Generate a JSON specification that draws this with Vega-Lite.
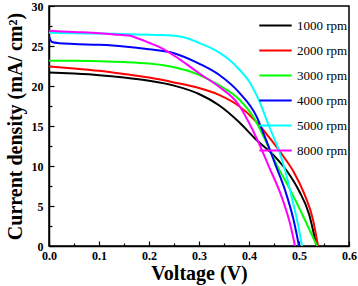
{
  "$schema": "https://vega.github.io/schema/vega-lite/v6.json",
  "width": 300,
  "height": 240,
  "autosize": {"type": "none"},
  "padding": {"left": 49, "top": 6, "right": 9, "bottom": 40},
  "background": "white",
  "config": {
    "view": {"stroke": "black", "strokeWidth": 1.5},
    "font": "Liberation Serif"
  },
  "data": {
    "values": [
      {"V": 0, "J": 21.7, "s": "1000 rpm"},
      {"V": 0.05, "J": 21.55, "s": "1000 rpm"},
      {"V": 0.1, "J": 21.35, "s": "1000 rpm"},
      {"V": 0.15, "J": 21.05, "s": "1000 rpm"},
      {"V": 0.2, "J": 20.65, "s": "1000 rpm"},
      {"V": 0.25, "J": 20.05, "s": "1000 rpm"},
      {"V": 0.3, "J": 19.0, "s": "1000 rpm"},
      {"V": 0.34, "J": 17.6, "s": "1000 rpm"},
      {"V": 0.38, "J": 15.5, "s": "1000 rpm"},
      {"V": 0.415, "J": 13.25, "s": "1000 rpm"},
      {"V": 0.45, "J": 11.3, "s": "1000 rpm"},
      {"V": 0.48, "J": 9.0, "s": "1000 rpm"},
      {"V": 0.5, "J": 6.9, "s": "1000 rpm"},
      {"V": 0.52, "J": 4.0, "s": "1000 rpm"},
      {"V": 0.535, "J": 0, "s": "1000 rpm"},

      {"V": 0, "J": 22.45, "s": "2000 rpm"},
      {"V": 0.05, "J": 22.2, "s": "2000 rpm"},
      {"V": 0.1, "J": 21.9, "s": "2000 rpm"},
      {"V": 0.15, "J": 21.5, "s": "2000 rpm"},
      {"V": 0.2, "J": 21.05, "s": "2000 rpm"},
      {"V": 0.25, "J": 20.45, "s": "2000 rpm"},
      {"V": 0.3, "J": 19.75, "s": "2000 rpm"},
      {"V": 0.34, "J": 18.9, "s": "2000 rpm"},
      {"V": 0.38, "J": 17.5, "s": "2000 rpm"},
      {"V": 0.415, "J": 15.5, "s": "2000 rpm"},
      {"V": 0.44, "J": 13.6, "s": "2000 rpm"},
      {"V": 0.47, "J": 11.1, "s": "2000 rpm"},
      {"V": 0.49, "J": 9.2, "s": "2000 rpm"},
      {"V": 0.51, "J": 6.6, "s": "2000 rpm"},
      {"V": 0.528, "J": 3.3, "s": "2000 rpm"},
      {"V": 0.538, "J": 0, "s": "2000 rpm"},

      {"V": 0, "J": 23.15, "s": "3000 rpm"},
      {"V": 0.05, "J": 23.15, "s": "3000 rpm"},
      {"V": 0.1, "J": 23.1, "s": "3000 rpm"},
      {"V": 0.15, "J": 23.0, "s": "3000 rpm"},
      {"V": 0.2, "J": 22.8, "s": "3000 rpm"},
      {"V": 0.25, "J": 22.35, "s": "3000 rpm"},
      {"V": 0.3, "J": 21.4, "s": "3000 rpm"},
      {"V": 0.34, "J": 20.1, "s": "3000 rpm"},
      {"V": 0.38, "J": 18.35, "s": "3000 rpm"},
      {"V": 0.41, "J": 16.0, "s": "3000 rpm"},
      {"V": 0.435, "J": 12.9, "s": "3000 rpm"},
      {"V": 0.455, "J": 10.2, "s": "3000 rpm"},
      {"V": 0.48, "J": 7.3, "s": "3000 rpm"},
      {"V": 0.51, "J": 3.5, "s": "3000 rpm"},
      {"V": 0.536, "J": 0, "s": "3000 rpm"},

      {"V": 0, "J": 26.2, "s": "4000 rpm"},
      {"V": 0.006, "J": 25.5, "s": "4000 rpm"},
      {"V": 0.02, "J": 25.35, "s": "4000 rpm"},
      {"V": 0.05, "J": 25.25, "s": "4000 rpm"},
      {"V": 0.1, "J": 25.15, "s": "4000 rpm"},
      {"V": 0.15, "J": 24.95, "s": "4000 rpm"},
      {"V": 0.2, "J": 24.6, "s": "4000 rpm"},
      {"V": 0.25, "J": 24.1, "s": "4000 rpm"},
      {"V": 0.3, "J": 22.8, "s": "4000 rpm"},
      {"V": 0.34, "J": 21.4, "s": "4000 rpm"},
      {"V": 0.38, "J": 19.2, "s": "4000 rpm"},
      {"V": 0.415, "J": 16.2, "s": "4000 rpm"},
      {"V": 0.432, "J": 13.6, "s": "4000 rpm"},
      {"V": 0.452, "J": 10.3, "s": "4000 rpm"},
      {"V": 0.472, "J": 7.0, "s": "4000 rpm"},
      {"V": 0.489, "J": 3.3, "s": "4000 rpm"},
      {"V": 0.5, "J": 0, "s": "4000 rpm"},

      {"V": 0, "J": 26.65, "s": "5000 rpm"},
      {"V": 0.05, "J": 26.6, "s": "5000 rpm"},
      {"V": 0.1, "J": 26.55, "s": "5000 rpm"},
      {"V": 0.15, "J": 26.5, "s": "5000 rpm"},
      {"V": 0.2, "J": 26.4, "s": "5000 rpm"},
      {"V": 0.24, "J": 26.35, "s": "5000 rpm"},
      {"V": 0.27, "J": 26.1, "s": "5000 rpm"},
      {"V": 0.3, "J": 25.4, "s": "5000 rpm"},
      {"V": 0.34, "J": 24.2, "s": "5000 rpm"},
      {"V": 0.36, "J": 23.3, "s": "5000 rpm"},
      {"V": 0.38, "J": 22.1, "s": "5000 rpm"},
      {"V": 0.4, "J": 20.6, "s": "5000 rpm"},
      {"V": 0.42, "J": 18.2, "s": "5000 rpm"},
      {"V": 0.44, "J": 15.0, "s": "5000 rpm"},
      {"V": 0.46, "J": 11.9, "s": "5000 rpm"},
      {"V": 0.472, "J": 9.5, "s": "5000 rpm"},
      {"V": 0.485, "J": 6.2, "s": "5000 rpm"},
      {"V": 0.499, "J": 2.4, "s": "5000 rpm"},
      {"V": 0.506, "J": 0, "s": "5000 rpm"},

      {"V": 0, "J": 26.9, "s": "8000 rpm"},
      {"V": 0.05, "J": 26.75, "s": "8000 rpm"},
      {"V": 0.1, "J": 26.6, "s": "8000 rpm"},
      {"V": 0.13, "J": 26.45, "s": "8000 rpm"},
      {"V": 0.16, "J": 26.3, "s": "8000 rpm"},
      {"V": 0.18, "J": 25.9, "s": "8000 rpm"},
      {"V": 0.2, "J": 25.4, "s": "8000 rpm"},
      {"V": 0.22, "J": 24.9, "s": "8000 rpm"},
      {"V": 0.26, "J": 23.4, "s": "8000 rpm"},
      {"V": 0.3, "J": 21.6, "s": "8000 rpm"},
      {"V": 0.34, "J": 19.9, "s": "8000 rpm"},
      {"V": 0.38, "J": 17.6, "s": "8000 rpm"},
      {"V": 0.4, "J": 15.4, "s": "8000 rpm"},
      {"V": 0.415, "J": 13.5, "s": "8000 rpm"},
      {"V": 0.44, "J": 9.9, "s": "8000 rpm"},
      {"V": 0.465, "J": 6.2, "s": "8000 rpm"},
      {"V": 0.482, "J": 2.8, "s": "8000 rpm"},
      {"V": 0.492, "J": 0, "s": "8000 rpm"}
    ]
  },
  "mark": {"type": "line", "strokeWidth": 2, "clip": true, "interpolate": "monotone"},
  "encoding": {
    "x": {
      "field": "V", "type": "quantitative",
      "scale": {"domain": [0, 0.6], "nice": false, "zero": false},
      "axis": {
        "title": "Voltage (V)",
        "values": [0, 0.05, 0.1, 0.15, 0.2, 0.25, 0.3, 0.35, 0.4, 0.45, 0.5, 0.55, 0.6],
        "labelExpr": "round(datum.value*100) % 10 == 0 ? format(datum.value, '.1f') : ''",
        "tickSize": {"condition": {"test": "round(datum.value*100) % 10 == 0", "value": -5}, "value": -3},
        "tickColor": "black", "tickWidth": 1.2,
        "domainColor": "black", "domainWidth": 1.5,
        "grid": false,
        "labelFont": "Liberation Serif", "labelFontWeight": "bold", "labelFontSize": 12,
        "labelColor": "black", "labelPadding": 9, "labelFlush": false,
        "titleFont": "Liberation Serif", "titleFontWeight": "bold", "titleFontSize": 20,
        "titleColor": "black", "titlePadding": 2
      }
    },
    "y": {
      "field": "J", "type": "quantitative",
      "scale": {"domain": [0, 30], "nice": false},
      "axis": {
        "title": "Current density (mA/ cm²)",
        "values": [0, 2.5, 5, 7.5, 10, 12.5, 15, 17.5, 20, 22.5, 25, 27.5, 30],
        "labelExpr": "datum.value % 5 == 0 ? format(datum.value, 'd') : ''",
        "tickSize": {"condition": {"test": "datum.value % 5 == 0", "value": -5}, "value": -3},
        "tickColor": "black", "tickWidth": 1.2,
        "domainColor": "black", "domainWidth": 1.5,
        "grid": false,
        "labelFont": "Liberation Serif", "labelFontWeight": "bold", "labelFontSize": 12,
        "labelColor": "black", "labelPadding": 11, "labelFlush": false,
        "titleFont": "Liberation Serif", "titleFontWeight": "bold", "titleFontSize": 20,
        "titleColor": "black", "titlePadding": 6
      }
    },
    "color": {
      "field": "s", "type": "nominal",
      "scale": {
        "domain": ["1000 rpm", "2000 rpm", "3000 rpm", "4000 rpm", "5000 rpm", "8000 rpm"],
        "range": ["#000000", "#ff0000", "#00ff00", "#0000ff", "#00ffff", "#ff00ff"]
      },
      "legend": {
        "title": null,
        "orient": "none",
        "legendX": 209,
        "legendY": 2,
        "symbolType": "stroke",
        "symbolSize": 1050,
        "symbolStrokeWidth": 2,
        "labelFont": "Liberation Serif",
        "labelFontSize": 13,
        "labelColor": "black",
        "labelOffset": 4,
        "rowPadding": -16
      }
    }
  }
}
